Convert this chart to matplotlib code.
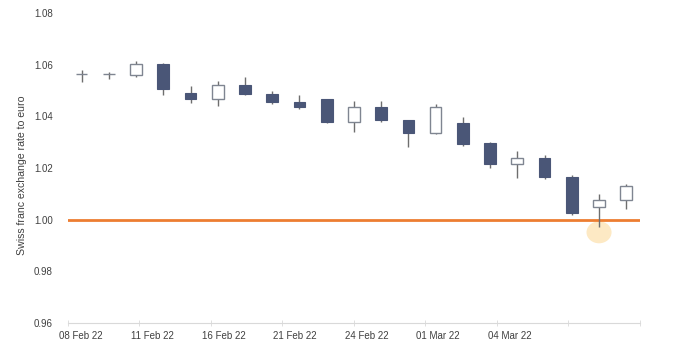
import numpy as np
import matplotlib
matplotlib.use('Agg')
import matplotlib.pyplot as plt
from matplotlib.patches import Ellipse

plt.rcParams['font.family'] = ['Liberation Sans', 'DejaVu Sans']

# business days, 08 Feb 22 .. 08 Mar 22
dates = ['08 Feb 22', '09 Feb 22', '10 Feb 22', '11 Feb 22', '14 Feb 22', '15 Feb 22',
         '16 Feb 22', '17 Feb 22', '18 Feb 22', '21 Feb 22', '22 Feb 22', '23 Feb 22',
         '24 Feb 22', '25 Feb 22', '28 Feb 22', '01 Mar 22', '02 Mar 22', '03 Mar 22',
         '04 Mar 22', '07 Mar 22', '08 Mar 22']
opens  = [1.0564, 1.0564, 1.0561, 1.0601, 1.0490, 1.0468, 1.0520, 1.0488, 1.0456, 1.0467,
          1.0378, 1.0436, 1.0387, 1.0337, 1.0376, 1.0297, 1.0216, 1.0239, 1.0165, 1.0049, 1.0075]
closes = [1.0564, 1.0564, 1.0601, 1.0506, 1.0468, 1.0523, 1.0488, 1.0456, 1.0436, 1.0378,
          1.0436, 1.0384, 1.0336, 1.0436, 1.0294, 1.0216, 1.0239, 1.0164, 1.0026, 1.0075, 1.0129]
highs  = [1.0578, 1.0571, 1.0613, 1.0607, 1.0516, 1.0535, 1.0551, 1.0499, 1.0484, 1.0467,
          1.0461, 1.0461, 1.0387, 1.0449, 1.0396, 1.0301, 1.0264, 1.0252, 1.0174, 1.0101, 1.0139]
lows   = [1.0533, 1.0544, 1.0552, 1.0484, 1.0452, 1.0439, 1.0484, 1.0449, 1.0429, 1.0376,
          1.0339, 1.0377, 1.0280, 1.0333, 1.0284, 1.0200, 1.0161, 1.0159, 1.0019, 0.9972, 1.0041]
label_every = 3
parity = 1.0
yticks = [0.96, 0.98, 1.00, 1.02, 1.04, 1.06, 1.08]

dark = '#4a5677'
edge = '#7f8591'
wick = '#6e6e6e'

fig = plt.figure(figsize=(6.8, 3.54), dpi=100)
ax = fig.add_axes([0.1, 0.0876, 0.841, 0.8757])

x = np.arange(len(dates))
o = np.array(opens)
c = np.array(closes)
up = c >= o

# highlight around the dip below parity
ax.add_patch(Ellipse((19, 0.9951), 0.92, 0.0085, facecolor='#fde9c4', edgecolor='none', zorder=1))
ax.axhline(parity, color='#ed7d31', linewidth=2, zorder=1.5)

ax.vlines(x, lows, highs, color=wick, linewidth=1, zorder=2)
bottoms = np.minimum(o, c)
heights = np.abs(c - o)
ax.bar(x[up], heights[up], bottom=bottoms[up], width=0.43, facecolor='white',
       edgecolor=edge, linewidth=1, zorder=3)
ax.bar(x[~up], heights[~up], bottom=bottoms[~up], width=0.43, facecolor=dark,
       edgecolor=dark, linewidth=0.8, zorder=3)

ax.set_xlim(-0.5, len(dates) - 0.5)
ax.set_ylim(0.96, 1.08)
ax.set_yticks(yticks)
ax.set_yticklabels(['%.2f' % v for v in yticks])

# tick marks split the axis in 8, labels sit just right of each mark
marks = np.linspace(-0.5, len(dates) - 0.5, 9)
ax.set_xticks(marks, minor=True)
ax.set_xticks(marks[:7] + 0.46)
ax.set_xticklabels(dates[::label_every])
ax.tick_params(axis='x', which='major', length=0, pad=6, labelsize=7, labelcolor='#404040')
ax.tick_params(axis='x', which='minor', length=4, direction='inout', color='#d9d9d9')
ax.tick_params(axis='y', length=0, pad=11, labelsize=7, labelcolor='#404040')

for s in ['top', 'right', 'left']:
    ax.spines[s].set_visible(False)
ax.spines['bottom'].set_color('#d9d9d9')

fig.text(22 / 680, 1 - 175 / 354, 'Swiss franc exchange rate to euro', rotation=90,
         ha='center', va='center', fontsize=7.6, color='#404040')

fig.savefig('out.png', dpi=100)
